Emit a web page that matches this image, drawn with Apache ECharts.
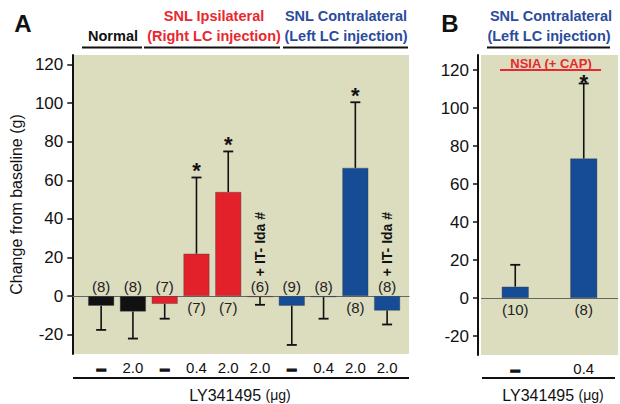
<!DOCTYPE html>
<html><head><meta charset="utf-8">
<script src="https://cdn.jsdelivr.net/npm/echarts@6/dist/echarts.min.js"></script>
<style>html,body{margin:0;padding:0;background:#fff}#c{width:620px;height:404px}</style>
</head><body><div id="c"></div>
<script>
const FONT = '"Liberation Sans", Arial, Helvetica, sans-serif';
// ---- data ----
const catsA = ['–','2.0','–','0.4','2.0','2.0','–','0.4','2.0','2.0'];
const groupA = ['normal','normal','ipsi','ipsi','ipsi','ipsi','contra','contra','contra','contra'];
const valsA = [-5, -8, -4, 22, 54, -0.5, -5, -0.5, 66.5, -7.5];
const errA  = [12.5, 14, 7.7, 39.5, 21, 4, 20.3, 11.2, 34, 7.2];
const nA    = [8, 8, 7, 7, 7, 6, 9, 8, 8, 8];
const sigA  = [0, 0, 0, 1, 1, 0, 0, 0, 1, 0];
const idaA  = [0, 0, 0, 0, 0, 1, 0, 0, 0, 1];
const catsB = ['–','0.4'];
const groupB = ['contra','contra'];
const valsB = [6, 73.5];
const errB  = [11.5, 39.5];
const nB    = [10, 8];
const sigB  = [0, 1];
const idaB  = [0, 0];
const yTicks = [-20, 0, 20, 40, 60, 80, 100, 120];
const xTitle = 'LY341495 ';
const xUnit = '(μg)';
const yTitle = 'Change from baseline (g)';

const COLORS = {normal:'#111111', ipsi:'#e2212a', contra:'#164b95'};
const RED = '#e8282e', BLUE = '#2b4c9c';
const BG = '#dcdcbf';

function barData(vals, groups){
  return vals.map((v,i)=>({value:v, itemStyle:{color:COLORS[groups[i]]}}));
}
function errData(vals, errs, ns, sigs, idas){
  return vals.map((v,i)=>[i, v, errs[i], ns[i], sigs[i], idas[i]]);
}
function makeErr(starDy){
  return function(params, api){
    const i = api.value(0), v = api.value(1), e = api.value(2), n = api.value(3), s = api.value(4), ida = api.value(5);
    const end = v > 0 ? v + e : v - e;
    const p0 = api.coord([i, v]);
    const p1 = api.coord([i, end]);
    const z = api.coord([i, 0]);
    const cap = 5;
    const ch = [
      {type:'line', shape:{x1:p0[0], y1:p0[1], x2:p1[0], y2:p1[1]}, style:{stroke:'#111', lineWidth:1.6}},
      {type:'line', shape:{x1:p1[0]-cap, y1:p1[1], x2:p1[0]+cap, y2:p1[1]}, style:{stroke:'#111', lineWidth:1.8}},
      {type:'text', x:z[0], y: v > 0 ? z[1]+4 : z[1]-2,
        style:{text:'('+n+')', font:'15px '+FONT, fill:'#222', align:'center', verticalAlign: v > 0 ? 'top' : 'bottom'}}
    ];
    if (s) ch.push({type:'text', x:p1[0], y:p1[1]+starDy,
        style:{text:'*', font:'bold 22px '+FONT, fill:'#111', align:'center', verticalAlign:'middle'}});
    if (ida) ch.push({type:'text', x:z[0], y:z[1]-20, rotation:Math.PI/2,
        style:{text:'+ IT- Ida #', font:'bold 14px '+FONT, fill:'#111', align:'left', verticalAlign:'middle'}});
    return {type:'group', children:ch};
  };
}
function catLabel(v){ return v === '–' ? '{d|–}' : '{n|'+v+'}'; }
const catRich = {
  d:{fontSize:18, fontWeight:'bold', fontFamily:FONT, color:'#111', textBorderColor:'#111', textBorderWidth:1.3},
  n:{fontSize:15, fontFamily:FONT, color:'#111'}
};

function yAx(grid, offset, show){
  return {
    type:'value', gridIndex:grid, min:-30, max: grid===2 ? 128 : 125, offset:offset, show:show,
    splitLine:{show:false},
    axisLine:{show:true, lineStyle:{color:'#111', width:2}},
    axisTick:{show:true, length:5, customValues:yTicks, lineStyle:{color:'#111', width:1.5}},
    axisLabel:{customValues:yTicks, fontSize:17, fontFamily:FONT, color:'#111', margin:9},
    name: grid===1 ? yTitle : '', nameLocation:'middle', nameGap:30,
    nameTextStyle:{fontSize:16, fontFamily:FONT, color:'#111'}
  };
}
function txt(x, y, t, color, size, bold){
  return {type:'text', x:x, y:y, style:{text:t, fill:color, font:(bold?'bold ':'')+size+'px '+FONT, align:'center', verticalAlign:'middle'}};
}
function hline(x1, x2, y, color, w){
  return {type:'line', shape:{x1:x1, y1:y, x2:x2, y2:y}, style:{stroke:color, lineWidth:w}};
}
function xTitleEl(x, y){
  return {type:'text', x:x, y:y, style:{rich:{a:{fontSize:16, fontFamily:FONT, fill:'#111'}, b:{fontSize:14, fontFamily:FONT, fill:'#111'}},
    text:'{a|'+xTitle+'}{b|'+xUnit+'}', align:'center', verticalAlign:'middle'}};
}

const chart = echarts.init(document.getElementById('c'), null, {renderer:'svg'});
chart.setOption({
  animation:false,
  backgroundColor:'#fff',
  grid:[
    {left:73, top:55, width:336, height:299, show:true, backgroundColor:BG, borderWidth:0},
    {left:80, top:55, width:323, height:299},
    {left:481, top:55, width:137, height:300, show:true, backgroundColor:BG, borderWidth:0}
  ],
  xAxis:[
    {type:'value', gridIndex:0, min:0, max:1, axisLine:{show:true, onZero:true, lineStyle:{color:'#666', width:1.2}},
      axisTick:{show:false}, axisLabel:{show:false}, splitLine:{show:false}},
    {type:'category', gridIndex:1, data:catsA, axisLine:{show:false, onZero:false}, axisTick:{show:false},
      axisLabel:{formatter:catLabel, rich:catRich, margin:6, interval:0}},
    {type:'category', gridIndex:2, data:catsB, axisLine:{show:false, onZero:false}, axisTick:{show:false},
      axisLabel:{formatter:catLabel, rich:catRich, margin:6, interval:0}}
  ],
  yAxis:[ yAx(0,0,false), yAx(1,13,true), yAx(2,3,true) ],
  series:[
    {type:'bar', xAxisIndex:1, yAxisIndex:1, data:barData(valsA, groupA), barWidth:26,
      itemStyle:{borderColor:'rgba(60,60,60,0.6)', borderWidth:0.6}},
    {type:'custom', xAxisIndex:1, yAxisIndex:1, renderItem:makeErr(-7), data:errData(valsA, errA, nA, sigA, idaA), z:5},
    {type:'bar', xAxisIndex:2, yAxisIndex:2, data:barData(valsB, groupB), barWidth:27,
      itemStyle:{borderColor:'rgba(60,60,60,0.6)', borderWidth:0.6},
      markLine:{silent:true, symbol:'none', label:{show:false}, lineStyle:{color:'#666', width:1.2, type:'solid'}, data:[{yAxis:0}]}},
    {type:'custom', xAxisIndex:2, yAxisIndex:2, renderItem:makeErr(-1), data:errData(valsB, errB, nB, sigB, idaB), z:5}
  ],
  graphic:[
    txt(23, 23, 'A', '#111', 24, true),
    txt(450, 23, 'B', '#111', 24, true),
    txt(113, 36, 'Normal', '#111', 14.5, true),
    hline(82, 142, 47.5, '#111', 2),
    txt(214, 16, 'SNL Ipsilateral', RED, 14.5, true),
    txt(214, 36, '(Right LC injection)', RED, 14.5, true),
    hline(144, 280, 47.5, '#111', 2),
    txt(346, 16, 'SNL Contralateral', BLUE, 14.5, true),
    txt(346, 36, '(Left LC injection)', BLUE, 14.5, true),
    hline(283, 408, 47.5, '#111', 2),
    txt(551, 16, 'SNL Contralateral', BLUE, 14.5, true),
    txt(549, 36, '(Left LC injection)', BLUE, 14.5, true),
    hline(487, 610, 47.5, '#111', 2),
    txt(551, 63, 'NSIA (+ CAP)', RED, 13, true),
    hline(500, 601, 70, RED, 2),
    hline(73, 409, 378, '#111', 2),
    hline(482, 615, 378, '#111', 2),
    xTitleEl(240, 395),
    xTitleEl(553, 395)
  ]
});
</script></body></html>
